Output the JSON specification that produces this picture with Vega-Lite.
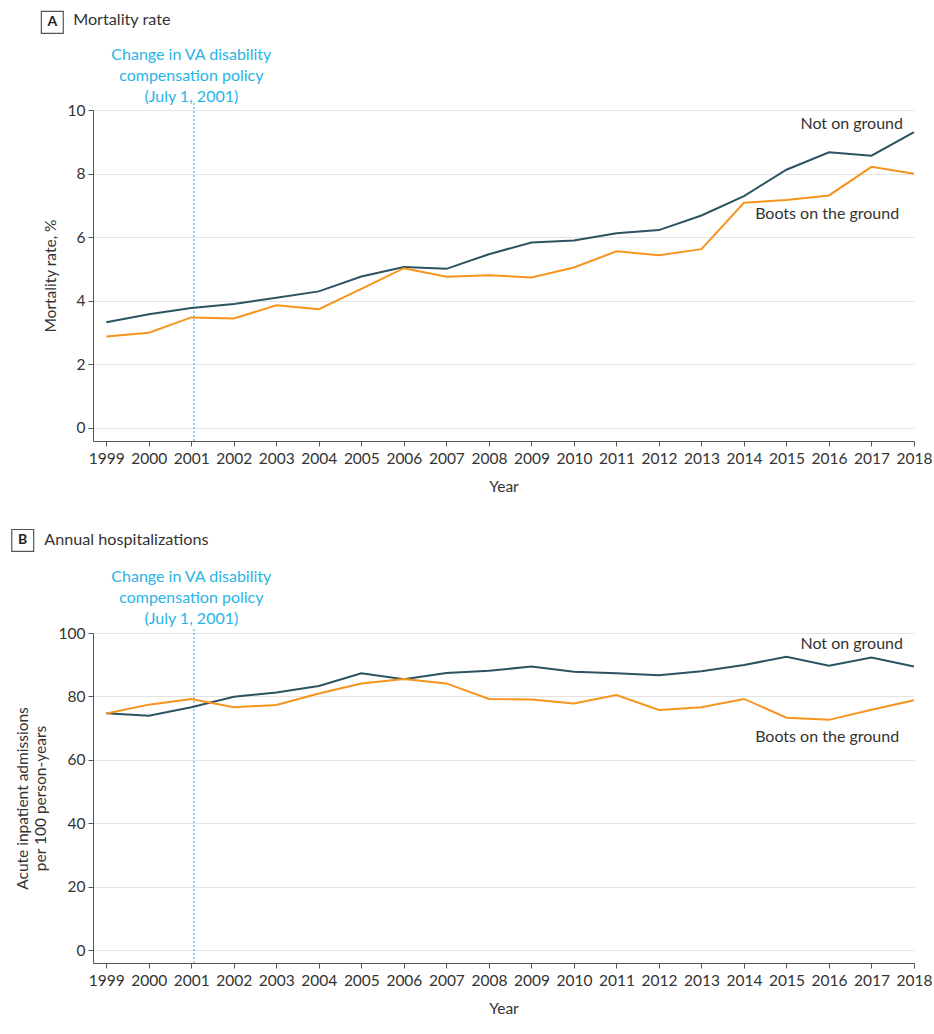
{
  "$schema": "https://vega.github.io/schema/vega-lite/v6.json",
  "background": "white",
  "padding": {"left": 9, "top": 8, "right": 5, "bottom": 5},
  "spacing": 32,
  "config": {
    "view": {"stroke": null},
    "font": "Lato",
    "axis": {
      "labelFont": "Lato", "titleFont": "Lato",
      "labelFontSize": 15.5, "titleFontSize": 15.5, "titleFontWeight": "normal",
      "labelColor": "#333", "titleColor": "#333",
      "domainColor": "#555", "tickColor": "#555", "gridColor": "#e3e3e3",
      "tickSize": 5
    }
  },
  "datasets": {
    "mortality": [
      {"year": 1999, "group": "Not on ground", "value": 3.32},
      {"year": 2000, "group": "Not on ground", "value": 3.57},
      {"year": 2001, "group": "Not on ground", "value": 3.77},
      {"year": 2002, "group": "Not on ground", "value": 3.89},
      {"year": 2003, "group": "Not on ground", "value": 4.09},
      {"year": 2004, "group": "Not on ground", "value": 4.29},
      {"year": 2005, "group": "Not on ground", "value": 4.76},
      {"year": 2006, "group": "Not on ground", "value": 5.06},
      {"year": 2007, "group": "Not on ground", "value": 5.0},
      {"year": 2008, "group": "Not on ground", "value": 5.46},
      {"year": 2009, "group": "Not on ground", "value": 5.83},
      {"year": 2010, "group": "Not on ground", "value": 5.89},
      {"year": 2011, "group": "Not on ground", "value": 6.12},
      {"year": 2012, "group": "Not on ground", "value": 6.22},
      {"year": 2013, "group": "Not on ground", "value": 6.68},
      {"year": 2014, "group": "Not on ground", "value": 7.29},
      {"year": 2015, "group": "Not on ground", "value": 8.12},
      {"year": 2016, "group": "Not on ground", "value": 8.67},
      {"year": 2017, "group": "Not on ground", "value": 8.56},
      {"year": 2018, "group": "Not on ground", "value": 9.30},
      {"year": 1999, "group": "Boots on the ground", "value": 2.87},
      {"year": 2000, "group": "Boots on the ground", "value": 2.99},
      {"year": 2001, "group": "Boots on the ground", "value": 3.47},
      {"year": 2002, "group": "Boots on the ground", "value": 3.44},
      {"year": 2003, "group": "Boots on the ground", "value": 3.85},
      {"year": 2004, "group": "Boots on the ground", "value": 3.73},
      {"year": 2005, "group": "Boots on the ground", "value": 4.37},
      {"year": 2006, "group": "Boots on the ground", "value": 5.02},
      {"year": 2007, "group": "Boots on the ground", "value": 4.75},
      {"year": 2008, "group": "Boots on the ground", "value": 4.80},
      {"year": 2009, "group": "Boots on the ground", "value": 4.73},
      {"year": 2010, "group": "Boots on the ground", "value": 5.04},
      {"year": 2011, "group": "Boots on the ground", "value": 5.55},
      {"year": 2012, "group": "Boots on the ground", "value": 5.43},
      {"year": 2013, "group": "Boots on the ground", "value": 5.62},
      {"year": 2014, "group": "Boots on the ground", "value": 7.08},
      {"year": 2015, "group": "Boots on the ground", "value": 7.17},
      {"year": 2016, "group": "Boots on the ground", "value": 7.31},
      {"year": 2017, "group": "Boots on the ground", "value": 8.21},
      {"year": 2018, "group": "Boots on the ground", "value": 7.99}
    ],
    "hosp": [
      {"year": 1999, "group": "Not on ground", "value": 74.7},
      {"year": 2000, "group": "Not on ground", "value": 73.9},
      {"year": 2001, "group": "Not on ground", "value": 76.6},
      {"year": 2002, "group": "Not on ground", "value": 79.9},
      {"year": 2003, "group": "Not on ground", "value": 81.2},
      {"year": 2004, "group": "Not on ground", "value": 83.3},
      {"year": 2005, "group": "Not on ground", "value": 87.3},
      {"year": 2006, "group": "Not on ground", "value": 85.4},
      {"year": 2007, "group": "Not on ground", "value": 87.4},
      {"year": 2008, "group": "Not on ground", "value": 88.1},
      {"year": 2009, "group": "Not on ground", "value": 89.4},
      {"year": 2010, "group": "Not on ground", "value": 87.8},
      {"year": 2011, "group": "Not on ground", "value": 87.3},
      {"year": 2012, "group": "Not on ground", "value": 86.7},
      {"year": 2013, "group": "Not on ground", "value": 87.9},
      {"year": 2014, "group": "Not on ground", "value": 89.9},
      {"year": 2015, "group": "Not on ground", "value": 92.5},
      {"year": 2016, "group": "Not on ground", "value": 89.7},
      {"year": 2017, "group": "Not on ground", "value": 92.3},
      {"year": 2018, "group": "Not on ground", "value": 89.4},
      {"year": 1999, "group": "Boots on the ground", "value": 74.6},
      {"year": 2000, "group": "Boots on the ground", "value": 77.4},
      {"year": 2001, "group": "Boots on the ground", "value": 79.2},
      {"year": 2002, "group": "Boots on the ground", "value": 76.6},
      {"year": 2003, "group": "Boots on the ground", "value": 77.3},
      {"year": 2004, "group": "Boots on the ground", "value": 80.9},
      {"year": 2005, "group": "Boots on the ground", "value": 84.1},
      {"year": 2006, "group": "Boots on the ground", "value": 85.5},
      {"year": 2007, "group": "Boots on the ground", "value": 84.1},
      {"year": 2008, "group": "Boots on the ground", "value": 79.2},
      {"year": 2009, "group": "Boots on the ground", "value": 79.0},
      {"year": 2010, "group": "Boots on the ground", "value": 77.8},
      {"year": 2011, "group": "Boots on the ground", "value": 80.4},
      {"year": 2012, "group": "Boots on the ground", "value": 75.7},
      {"year": 2013, "group": "Boots on the ground", "value": 76.6},
      {"year": 2014, "group": "Boots on the ground", "value": 79.2},
      {"year": 2015, "group": "Boots on the ground", "value": 73.3},
      {"year": 2016, "group": "Boots on the ground", "value": 72.6},
      {"year": 2017, "group": "Boots on the ground", "value": 75.8},
      {"year": 2018, "group": "Boots on the ground", "value": 78.8}
    ]
  },
  "vconcat": [
    {
      "width": 821,
      "height": 331,
      "data": {"values": [{}]},
      "layer": [
        {
          "mark": {"type": "rule", "color": "#4cc3ee", "strokeDash": [2, 2], "strokeWidth": 1.3},
          "encoding": {
            "x": {"datum": 2001.06, "type": "quantitative"},
            "y": {"datum": -0.42, "type": "quantitative"},
            "y2": {"datum": 10.25}
          }
        },
        {
          "data": {"name": "mortality"},
          "mark": {"type": "line", "strokeWidth": 2},
          "encoding": {
            "x": {
              "field": "year", "type": "quantitative",
              "scale": {"domain": [1998.687, 2018], "nice": false, "zero": false},
              "axis": {"title": "Year", "values": [1999,2000,2001,2002,2003,2004,2005,2006,2007,2008,2009,2010,2011,2012,2013,2014,2015,2016,2017,2018], "format": "d", "grid": false, "labelPadding": 5.5, "titlePadding": 12.5, "labelFlush": false}
            },
            "y": {
              "field": "value", "type": "quantitative",
              "scale": {"domain": [-0.42, 10], "nice": false, "zero": false},
              "axis": {"title": "Mortality rate, %", "values": [0, 2, 4, 6, 8, 10], "labelPadding": 3, "titlePadding": 8.7, "grid": true}
            },
            "color": {
              "field": "group", "type": "nominal",
              "scale": {"domain": ["Not on ground", "Boots on the ground"], "range": ["#2c5361", "#f7941d"]},
              "legend": null
            }
          }
        },
        {
          "mark": {"type": "text", "text": "Not on ground", "align": "right", "baseline": "middle", "font": "Lato", "fontSize": 16, "color": "#333"},
          "encoding": {"x": {"datum": 2017.74, "type": "quantitative"}, "y": {"datum": 9.55, "type": "quantitative"}}
        },
        {
          "mark": {"type": "text", "text": "Boots on the ground", "align": "right", "baseline": "middle", "font": "Lato", "fontSize": 16, "color": "#333"},
          "encoding": {"x": {"datum": 2017.65, "type": "quantitative"}, "y": {"datum": 6.72, "type": "quantitative"}}
        },
        {
          "mark": {"type": "text", "text": ["Change in VA disability", "compensation policy", "(July 1, 2001)"], "align": "center", "baseline": "middle", "lineHeight": 21, "font": "Lato", "fontSize": 16, "color": "#29b4e6"},
          "encoding": {"x": {"datum": 2001.0, "type": "quantitative"}, "y": {"datum": 11.72, "type": "quantitative"}}
        },
        {
          "mark": {"type": "point", "shape": "square", "size": 480, "filled": false, "stroke": "#555", "strokeWidth": 1.2, "opacity": 1},
          "encoding": {"x": {"datum": 1997.73, "type": "quantitative"}, "y": {"datum": 12.76, "type": "quantitative"}}
        },
        {
          "mark": {"type": "text", "text": "A", "align": "center", "baseline": "middle", "font": "Lato", "fontSize": 14, "fontWeight": "bold", "color": "#222"},
          "encoding": {"x": {"datum": 1997.73, "type": "quantitative"}, "y": {"datum": 12.76, "type": "quantitative"}}
        },
        {
          "mark": {"type": "text", "text": "Mortality rate", "align": "left", "baseline": "middle", "font": "Lato", "fontSize": 16.2, "color": "#333"},
          "encoding": {"x": {"datum": 1998.22, "type": "quantitative"}, "y": {"datum": 12.82, "type": "quantitative"}}
        }
      ]
    },
    {
      "width": 821,
      "height": 330,
      "data": {"values": [{}]},
      "layer": [
        {
          "mark": {"type": "rule", "color": "#4cc3ee", "strokeDash": [2, 2], "strokeWidth": 1.3},
          "encoding": {
            "x": {"datum": 2001.06, "type": "quantitative"},
            "y": {"datum": -4.1, "type": "quantitative"},
            "y2": {"datum": 102}
          }
        },
        {
          "data": {"name": "hosp"},
          "mark": {"type": "line", "strokeWidth": 2},
          "encoding": {
            "x": {
              "field": "year", "type": "quantitative",
              "scale": {"domain": [1998.687, 2018], "nice": false, "zero": false},
              "axis": {"title": "Year", "values": [1999,2000,2001,2002,2003,2004,2005,2006,2007,2008,2009,2010,2011,2012,2013,2014,2015,2016,2017,2018], "format": "d", "grid": false, "labelPadding": 5.5, "titlePadding": 12.5, "labelFlush": false}
            },
            "y": {
              "field": "value", "type": "quantitative",
              "scale": {"domain": [-4.1, 100], "nice": false, "zero": false},
              "axis": {"title": ["Acute inpatient admissions", "per 100 person-years"], "values": [0, 20, 40, 60, 80, 100], "labelPadding": 3, "titlePadding": 10, "titleLineHeight": 18, "grid": true}
            },
            "color": {
              "field": "group", "type": "nominal",
              "scale": {"domain": ["Not on ground", "Boots on the ground"], "range": ["#2c5361", "#f7941d"]},
              "legend": null
            }
          }
        },
        {
          "mark": {"type": "text", "text": "Not on ground", "align": "right", "baseline": "middle", "font": "Lato", "fontSize": 16, "color": "#333"},
          "encoding": {"x": {"datum": 2017.74, "type": "quantitative"}, "y": {"datum": 96.5, "type": "quantitative"}}
        },
        {
          "mark": {"type": "text", "text": "Boots on the ground", "align": "right", "baseline": "middle", "font": "Lato", "fontSize": 16, "color": "#333"},
          "encoding": {"x": {"datum": 2017.65, "type": "quantitative"}, "y": {"datum": 67.2, "type": "quantitative"}}
        },
        {
          "mark": {"type": "text", "text": ["Change in VA disability", "compensation policy", "(July 1, 2001)"], "align": "center", "baseline": "middle", "lineHeight": 21, "font": "Lato", "fontSize": 16, "color": "#29b4e6"},
          "encoding": {"x": {"datum": 2001.0, "type": "quantitative"}, "y": {"datum": 117.7, "type": "quantitative"}}
        },
        {
          "mark": {"type": "point", "shape": "square", "size": 480, "filled": false, "stroke": "#555", "strokeWidth": 1.2, "opacity": 1},
          "encoding": {"x": {"datum": 1997.034, "type": "quantitative"}, "y": {"datum": 129.2, "type": "quantitative"}}
        },
        {
          "mark": {"type": "text", "text": "B", "align": "center", "baseline": "middle", "font": "Lato", "fontSize": 14, "fontWeight": "bold", "color": "#222"},
          "encoding": {"x": {"datum": 1997.034, "type": "quantitative"}, "y": {"datum": 129.2, "type": "quantitative"}}
        },
        {
          "mark": {"type": "text", "text": "Annual hospitalizations", "align": "left", "baseline": "middle", "font": "Lato", "fontSize": 16.2, "color": "#333"},
          "encoding": {"x": {"datum": 1997.54, "type": "quantitative"}, "y": {"datum": 129.2, "type": "quantitative"}}
        }
      ]
    }
  ]
}
